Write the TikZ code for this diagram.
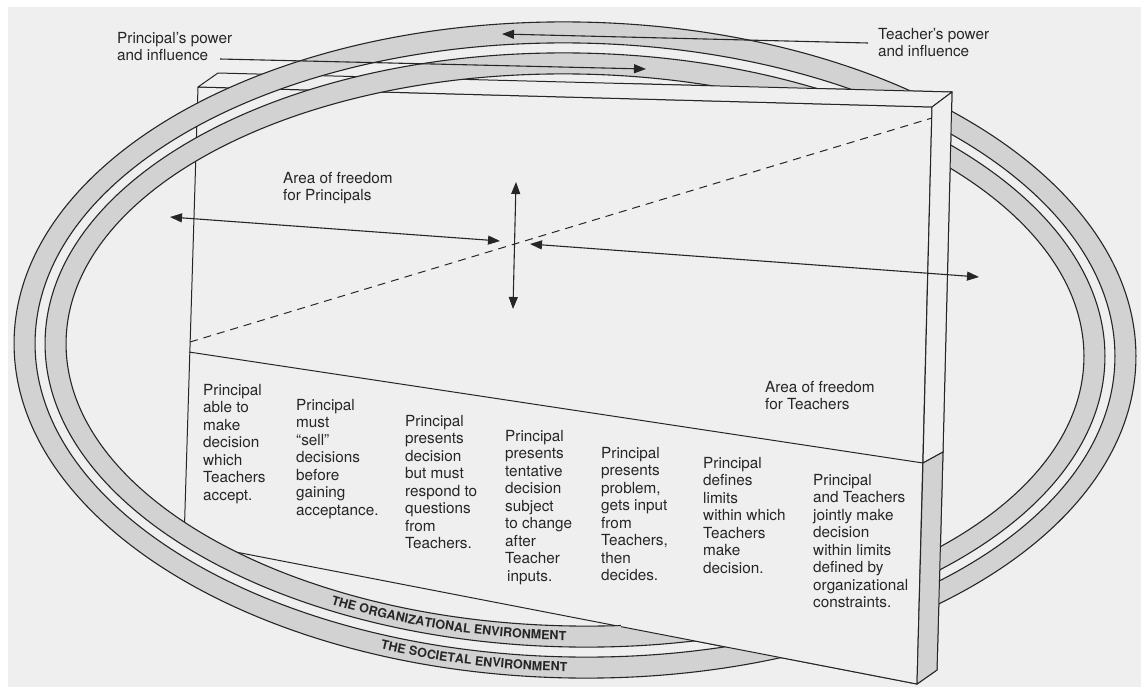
\documentclass[tikz,border=0pt]{standalone}
\usepackage{fontspec}
\setmainfont{TeX Gyre Heros}
\usetikzlibrary{arrows.meta,decorations.text}
\definecolor{paper}{HTML}{EFEFEF}
\definecolor{band}{HTML}{D2D2D2}
\definecolor{ink}{HTML}{262626}
% the slab: front face, top face and right side face
\newcommand\drawslab{%
  \path[face] (FTL) -- (FTR) -- (FBR) -- (FBL) -- cycle;
  \path[face] (FTL) -- (BTL) -- (BTR) -- (FTR) -- cycle;
  \path[face] (FTR) -- (BTR) -- (DRB) -- (DR) -- cycle;
  \path[sideband] (DR) -- (DRB) -- (BBR) -- (FBR) -- cycle;
  \draw[edge] (DL) -- (DR);
}
\begin{document}
\begin{tikzpicture}[x=1pt,y=1pt,
  edge/.style={draw=ink,line width=1pt,line join=round},
  face/.style={fill=paper,edge},
  sideband/.style={fill=band,edge},
  ringline/.style={draw=ink,line width=1.1pt},
  lbl/.style={inner sep=0pt,anchor=north west,align=left,text=ink,
    font=\fontsize{15.3}{17.5}\selectfont},
  tip/.tip={Triangle[length=12pt,width=9pt]},
  arr/.style={draw=ink,line width=1.1pt,-tip},
  dblarr/.style={draw=ink,line width=1.1pt,tip-tip},
  divide/.style={draw=ink,line width=1pt,dash pattern=on 8pt off 6pt},
  envtext/.style={decorate,decoration={text along path,text align=center,
    raise=-4.5pt,text color=ink}},
]
\useasboundingbox (0,0) rectangle (1143,-689);
\fill[white] (0,0) rectangle (1143,-689);
\fill[paper] (8,-7) rectangle (1141,-687);

% slab corners
\coordinate (FTL) at (198,-87);
\coordinate (FTR) at (932,-107);
\coordinate (BTL) at (218,-73);
\coordinate (BTR) at (952,-92);
\coordinate (FBR) at (917,-684);
\coordinate (BBR) at (937,-670);
\coordinate (FBL) at (184,-542);
\coordinate (DL)  at (189,-352);
\coordinate (DR)  at (923,-463);
\coordinate (DRB) at (943,-452);
\coordinate (O)   at (575,-350);

\drawslab

% the two environment rings
\begin{scope}[rotate around={-1:(O)}]
  \fill[band,even odd rule] (O) ellipse[x radius=561pt,y radius=328pt]
                            (O) ellipse[x radius=540pt,y radius=307pt];
  \fill[band,even odd rule] (O) ellipse[x radius=530pt,y radius=297pt]
                            (O) ellipse[x radius=509pt,y radius=276pt];
  \draw[ringline] (O) ellipse[x radius=561pt,y radius=328pt];
  \draw[ringline] (O) ellipse[x radius=540pt,y radius=307pt];
  \draw[ringline] (O) ellipse[x radius=530pt,y radius=297pt];
  \draw[ringline] (O) ellipse[x radius=509pt,y radius=276pt];
  \path[envtext,decoration={text={|\fontsize{12.5}{13}\selectfont\bfseries|THE ORGANIZATIONAL ENVIRONMENT}}]
    (O) ++(225:519pt and 286pt) arc[start angle=225,end angle=285,x radius=519pt,y radius=286pt];
  \path[envtext,decoration={text={|\fontsize{12.5}{13}\selectfont\bfseries|THE SOCIETAL ENVIRONMENT}}]
    (O) ++(229:550pt and 317pt) arc[start angle=229,end angle=289,x radius=550pt,y radius=317pt];
\end{scope}

% right part of the slab stands in front of the rings
\begin{scope}
  \clip (621,0) rectangle (1143,-689);
  \drawslab
\end{scope}

% dividing line between the two areas of freedom
\coordinate (DA) at (190,-342);
\coordinate (DB) at (932,-118);
\draw[divide] (DA) -- (DB);

% arrows
\coordinate (L1) at (170,-217);
\coordinate (L2) at (500,-241);
\coordinate (R1) at (530,-244);
\coordinate (R2) at (979,-277);
\coordinate (V1) at (516,-182);
\coordinate (V2) at (513,-309);
\draw[dblarr] (L1) -- (L2);
\draw[dblarr] (R1) -- (R2);
\draw[dblarr] (V1) -- (V2);

% labels
\node[lbl] (pp) at (117,-32) {Principal's power\\and influence};
\node[lbl] (tp) at (878,-28) {Teacher's power\\and influence};
\node[lbl] (ap) at (283,-172) {Area of freedom\\for Principals};
\node[lbl] (at) at (765,-381) {Area of freedom\\for Teachers};

\coordinate (P1) at (220,-59);
\coordinate (P2) at (646,-69);
\coordinate (T1) at (868,-43);
\coordinate (T2) at (502,-34);
\draw[arr] (P1) -- (P2);
\draw[arr] (T1) -- (T2);

% decision columns
\node[lbl] (c1) at (203,-384) {Principal\\able to\\make\\decision\\which\\Teachers\\accept.};
\node[lbl] (c2) at (296,-399) {Principal\\must\\“sell”\\decisions\\before\\gaining\\acceptance.};
\node[lbl] (c3) at (405,-415) {Principal\\presents\\decision\\but must\\respond to\\questions\\from\\Teachers.};
\node[lbl] (c4) at (505,-430) {Principal\\presents\\tentative\\decision\\subject\\to change\\after\\Teacher\\\hspace{2pt}inputs.};
\node[lbl] (c5) at (601,-447) {Principal\\presents\\problem,\\gets input\\from\\Teachers,\\then\\decides.};
\node[lbl] (c6) at (703,-457) {Principal\\defines\\limits\\within which\\Teachers\\make\\decision.};
\node[lbl] (c7) at (813,-474) {Principal\\and Teachers\\jointly make\\decision\\within limits\\defined by\\organizational\\constraints.};
\end{tikzpicture}
\end{document}
